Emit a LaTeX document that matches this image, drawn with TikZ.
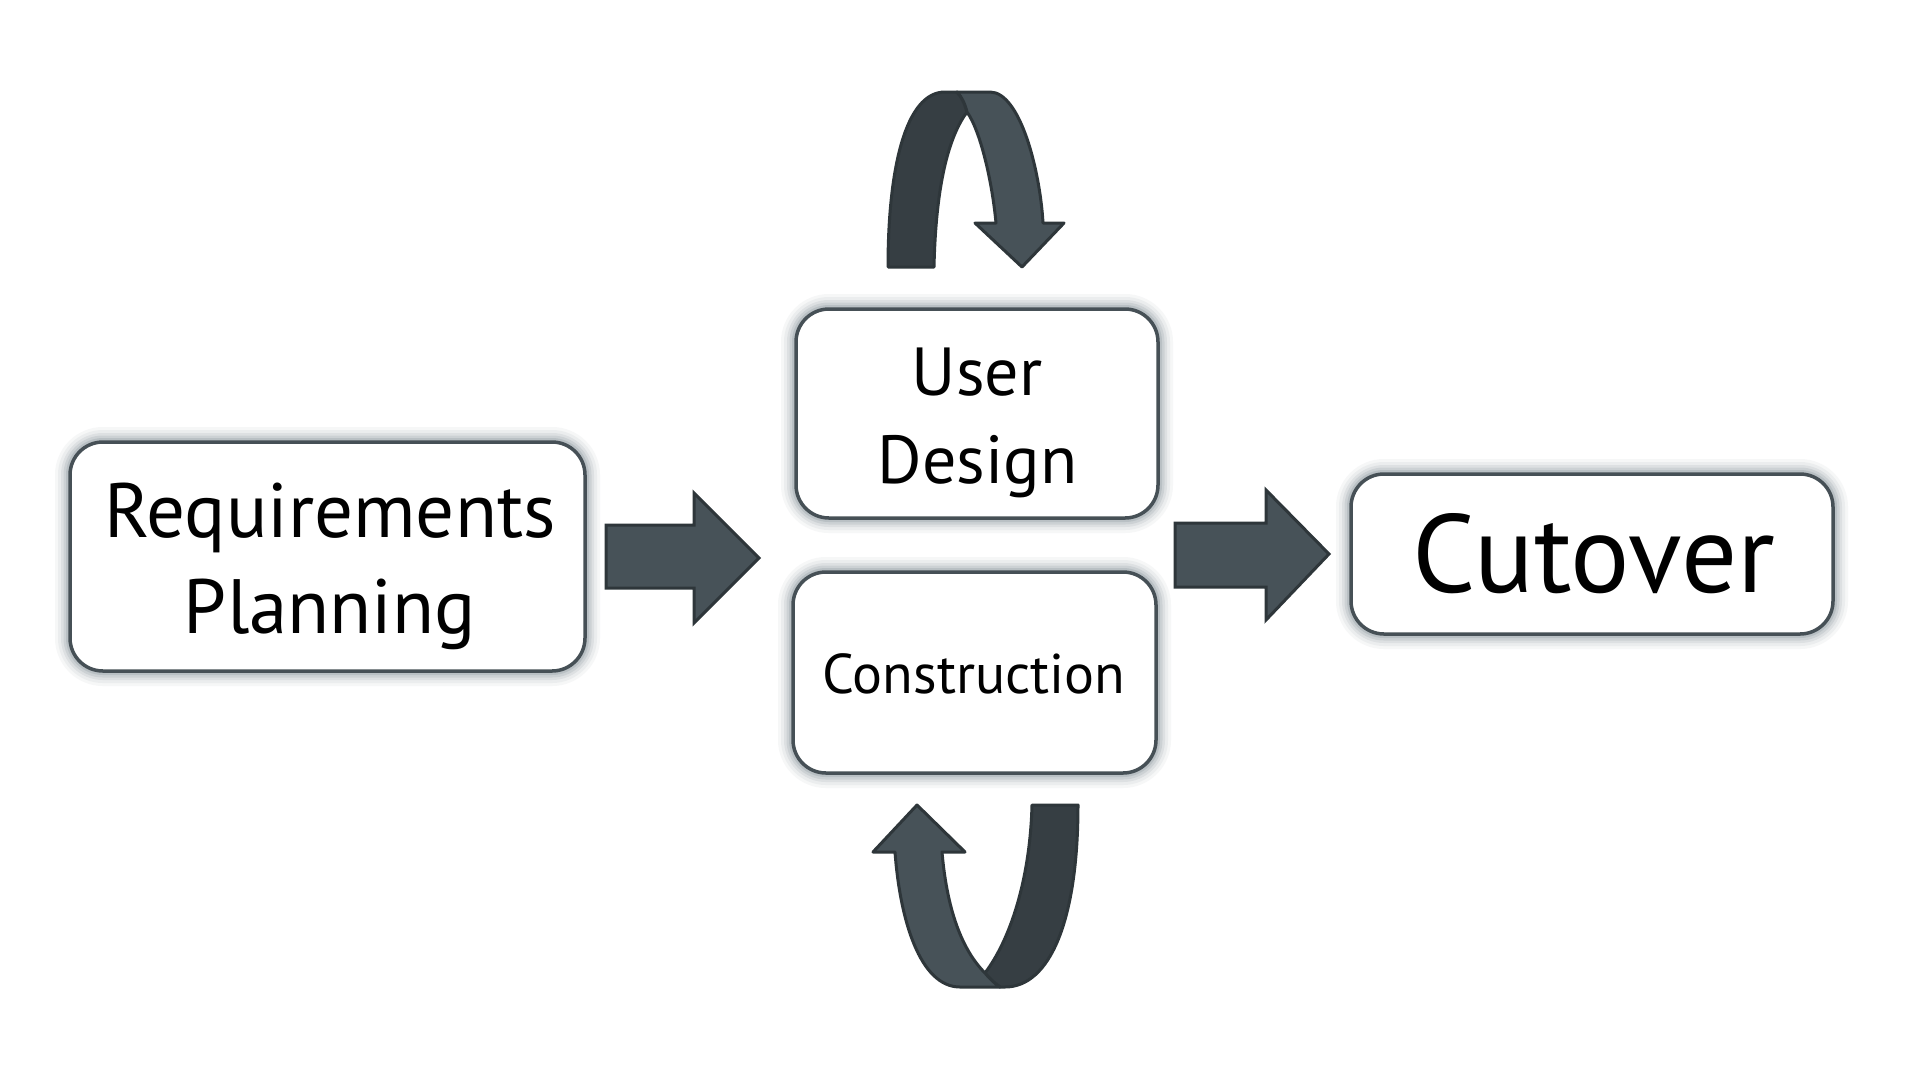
\documentclass[tikz,border=0pt]{standalone}
\usepackage{fontspec}
\setmainfont{PT Sans}
\pgfdeclarelayer{background}
\pgfdeclarelayer{canvas}
\pgfsetlayers{canvas,background,main}
\definecolor{bandD}{RGB}{54,62,67}
\definecolor{bandL}{RGB}{71,82,88}
\definecolor{edgec}{RGB}{46,54,58}
\definecolor{boxline}{RGB}{70,80,86}
\definecolor{glowc}{RGB}{110,126,134}
\begin{document}
\begin{tikzpicture}[x=1pt,y=-1pt,
  box/.style={draw=boxline, line width=3.5pt, fill=white, rounded corners=33pt, inner sep=0pt, outer sep=0pt},
  lbl/.style={anchor=base, inner sep=0pt},
  band/.style={draw=edgec, line width=3pt, line join=round},
  blockarrow/.style={fill=bandL, draw=edgec, line width=3pt, line join=miter}]
\begin{pgfonlayer}{canvas}
\fill[white] (0,0) rectangle (1920,1080);
\end{pgfonlayer}
\useasboundingbox (0,0) rectangle (1920,1080);

\node[box, minimum width=515pt, minimum height=229pt] (req) at (327.5,556.5) {};
\node[box, minimum width=362pt, minimum height=209pt] (ud) at (977,413.5) {};
\node[box, minimum width=363pt, minimum height=201pt] (con) at (974.5,672.5) {};
\node[box, minimum width=482pt, minimum height=160pt] (cut) at (1592,554) {};

\node[lbl, font=\fontsize{77}{90}\selectfont] (reqa) at (330,537) {Requirements};
\node[lbl, font=\fontsize{77}{90}\selectfont] (reqb) at (330,633) {Planning};
\node[lbl, font=\fontsize{68}{80}\selectfont] (uda) at (977,395) {User};
\node[lbl, font=\fontsize{68}{80}\selectfont] (udb) at (977.5,483) {Design};
\node[lbl, font=\fontsize{56}{66}\selectfont] (cona) at (974,693) {Construction};
\node[lbl, font=\fontsize{111}{120}\selectfont] (cuta) at (1594,592) {Cutover};

\begin{pgfonlayer}{background}
\foreach \n in {req,ud,con,cut}{
  \foreach \w/\o in {30/0.06,24/0.08,18/0.11,13/0.15,8/0.2}{
    \draw[line width=\w pt, draw=glowc, opacity=\o, rounded corners=33pt] (\n.north west) rectangle (\n.south east);
  }
}
\end{pgfonlayer}

% straight block arrows
\draw[blockarrow] (606,525) -- (694,525) -- (694,493) -- (759,558) -- (694,623) -- (694,588) -- (606,588) -- cycle;
\draw[blockarrow] (1175,523) -- (1266,523) -- (1266,490) -- (1329,554) -- (1266,620) -- (1266,587) -- (1175,587) -- cycle;

% top curved arrow (back band)
\draw[band, fill=bandD] (888,267) .. controls (888,170) and (905,92) .. (945,92) -- (957,92)
  .. controls (962,97) and (965,104) .. (967,112)
  .. controls (950,135) and (936,180) .. (934,267) -- cycle;
% top curved arrow (front band)
\draw[band, fill=bandL] (957,92) -- (990,92) .. controls (1020,92) and (1040,170) .. (1043,223)
  -- (1064,223) -- (1022,267) -- (975,223) -- (996,223)
  .. controls (992,180) and (980,130) .. (967,112)
  .. controls (965,104) and (962,97) .. (957,92) -- cycle;

% bottom curved arrow (back band)
\draw[band, fill=bandD] (1032,805) -- (1078,805) .. controls (1078,920) and (1050,987) .. (1005,987) -- (1000,987)
  .. controls (994,983) and (989,978) .. (985,973)
  .. controls (1010,940) and (1030,880) .. (1032,805) -- cycle;
% bottom curved arrow (front band)
\draw[band, fill=bandL] (1000,987) -- (960,987) .. controls (920,987) and (900,920) .. (895,852)
  -- (873,852) -- (917,805) -- (965,852) -- (942,852)
  .. controls (947,910) and (962,950) .. (985,973)
  .. controls (989,978) and (994,983) .. (1000,987) -- cycle;
\end{tikzpicture}
\end{document}
